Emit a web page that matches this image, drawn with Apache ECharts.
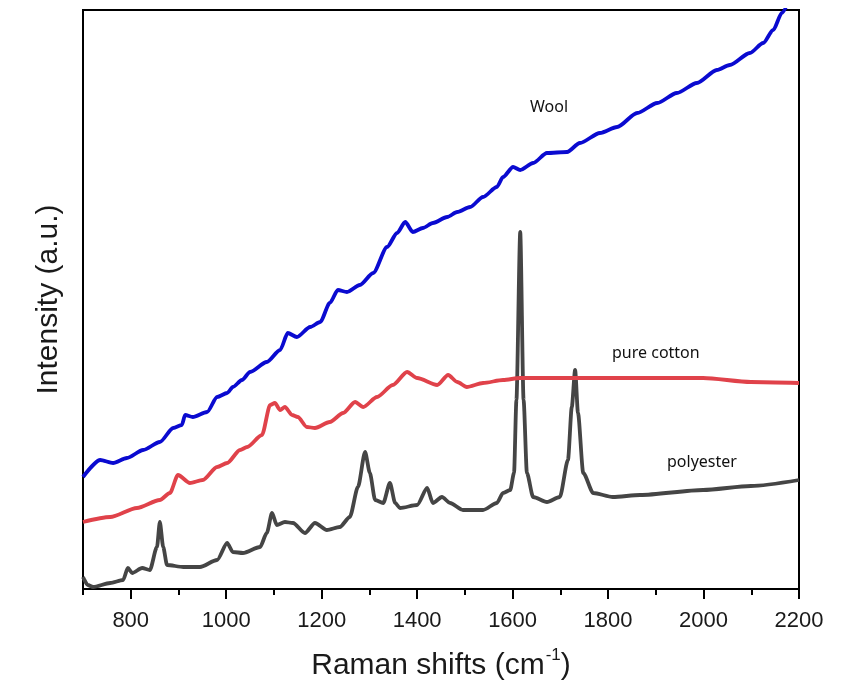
<!DOCTYPE html>
<html>
<head>
<meta charset="utf-8">
<script src="https://cdn.jsdelivr.net/npm/echarts@6/dist/echarts.min.js"></script>
<style>
  html, body { margin: 0; padding: 0; background: #fff; }
  #chart { width: 843px; height: 686px; }
</style>
</head>
<body>
<div id="chart"></div>
<script>
  // Raman shift (cm-1) / intensity (a.u.)
  var woolShift = [700, 736, 763, 792, 826, 861, 889, 907, 914, 930, 960, 981, 1002, 1014, 1033, 1050, 1085, 1113, 1129, 1148, 1176, 1197, 1217, 1234, 1253, 1280, 1308, 1337, 1358, 1375, 1391, 1412, 1433, 1463, 1484, 1511, 1538, 1567, 1580, 1601, 1616, 1643, 1672, 1714, 1741, 1783, 1819, 1861, 1903, 1944, 1986, 2028, 2055, 2097, 2125, 2146, 2164, 2181];
  var woolIntensity = [112, 129, 126, 131, 139, 147, 161, 164, 174, 172, 177, 192, 196, 202, 209, 217, 227, 239, 256, 252, 262, 267, 286, 299, 297, 304, 316, 342, 356, 367, 357, 361, 366, 372, 377, 382, 392, 402, 412, 422, 419, 426, 436, 437, 446, 456, 462, 476, 486, 496, 506, 519, 524, 536, 546, 559, 576, 591];

  var cottonShift = [700, 757, 813, 861, 882, 899, 924, 951, 981, 1002, 1029, 1044, 1075, 1092, 1102, 1113, 1123, 1138, 1150, 1169, 1186, 1217, 1245, 1270, 1287, 1316, 1349, 1379, 1400, 1442, 1465, 1484, 1504, 1538, 1580, 1616, 1699, 1867, 1999, 2099, 2200];
  var cottonIntensity = [67, 72, 81, 89, 96, 114, 106, 109, 122, 126, 139, 142, 154, 184, 186, 179, 182, 174, 172, 162, 161, 167, 176, 187, 182, 192, 204, 217, 211, 204, 214, 207, 202, 206, 209, 211, 211, 211, 211, 207, 206];

  var polyShift = [700, 710, 721, 757, 784, 794, 803, 824, 840, 855, 861, 868, 876, 910, 945, 981, 1002, 1014, 1035, 1071, 1085, 1096, 1106, 1123, 1140, 1165, 1186, 1211, 1238, 1259, 1276, 1291, 1301, 1312, 1329, 1343, 1354, 1364, 1400, 1421, 1433, 1452, 1469, 1496, 1538, 1567, 1580, 1595, 1603, 1608, 1616, 1623, 1630, 1643, 1672, 1699, 1716, 1724, 1731, 1737, 1748, 1769, 1810, 1867, 1999, 2099, 2200];
  var polyIntensity = [12, 4, 2, 6, 9, 21, 16, 21, 19, 42, 67, 42, 24, 22, 22, 29, 46, 37, 36, 42, 56, 76, 64, 67, 66, 56, 66, 59, 62, 72, 102, 137, 116, 89, 86, 106, 86, 81, 84, 101, 86, 92, 86, 79, 79, 86, 96, 99, 116, 189, 357, 189, 116, 92, 87, 92, 129, 182, 219, 176, 116, 96, 92, 94, 99, 103, 109];

  var tickValues = [800, 1000, 1200, 1400, 1600, 1800, 2000, 2200];
  var minorTickValues = [700, 900, 1100, 1300, 1500, 1700, 1900, 2100];

  function zip(xs, ys) {
    var out = [];
    for (var i = 0; i < xs.length; i++) {
      out.push([xs[i], ys[i]]);
    }
    return out;
  }

  var chart = echarts.init(document.getElementById('chart'), null, { renderer: 'canvas' });
  var option = {
    backgroundColor: '#fff',
    animation: false,
    grid: {
      left: 83,
      right: 44,
      top: 10,
      bottom: 97,
      show: true,
      borderColor: '#000',
      borderWidth: 2,
      backgroundColor: 'transparent'
    },
    xAxis: [{
      type: 'value',
      min: 700,
      max: 2200,
      interval: 100,
      name: '{a|Raman shifts (cm}{s|-1}{a|)}',
      nameLocation: 'middle',
      nameGap: 58,
      nameTextStyle: {
        rich: {
          a: { fontFamily: 'Liberation Sans', fontSize: 30, color: '#1a1a1a', lineHeight: 34, verticalAlign: 'bottom' },
          s: { fontFamily: 'Liberation Sans', fontSize: 17, color: '#1a1a1a', lineHeight: 34, verticalAlign: 'top', padding: [0, 0, 0, 1] }
        }
      },
      axisLine: { show: true, onZero: false, lineStyle: { color: '#000', width: 2 } },
      axisTick: { show: true, customValues: tickValues, length: 10, lineStyle: { color: '#000', width: 2 } },
      axisLabel: {
        customValues: tickValues,
        formatter: function (v) { return String(v); },
        margin: 21,
        fontFamily: 'Liberation Sans',
        fontSize: 22,
        color: '#1a1a1a'
      },
      splitLine: { show: false }
    }, {
      type: 'value',
      position: 'bottom',
      min: 700,
      max: 2200,
      interval: 100,
      axisLine: { show: false },
      axisTick: { show: true, customValues: minorTickValues, length: 6, lineStyle: { color: '#000', width: 2 } },
      axisLabel: { show: false },
      splitLine: { show: false }
    }],
    yAxis: {
      type: 'value',
      min: 0,
      max: 579,
      name: 'Intensity (a.u.)',
      nameLocation: 'middle',
      nameGap: 19,
      nameTextStyle: { fontFamily: 'Liberation Sans', fontSize: 30, color: '#1a1a1a' },
      axisLine: { show: true, onZero: false, lineStyle: { color: '#000', width: 2 } },
      axisTick: { show: false },
      axisLabel: { show: false },
      splitLine: { show: false }
    },
    graphic: [
      { type: 'text', left: 530, top: 99, style: { text: 'Wool', fontFamily: 'Noto Sans', fontSize: 16, fill: '#111' } },
      { type: 'text', left: 612, top: 345, style: { text: 'pure cotton', fontFamily: 'Noto Sans', fontSize: 16, fill: '#111' } },
      { type: 'text', left: 667, top: 454, style: { text: 'polyester', fontFamily: 'Noto Sans', fontSize: 16, fill: '#111' } }
    ],
    series: [{
      name: 'polyester',
      type: 'line',
      data: zip(polyShift, polyIntensity),
      showSymbol: false,
      smooth: 0.25,
      smoothMonotone: 'x',
      clip: true,
      lineStyle: { color: '#454545', width: 3.8 }
    }, {
      name: 'pure cotton',
      type: 'line',
      data: zip(cottonShift, cottonIntensity),
      showSymbol: false,
      smooth: 0.25,
      smoothMonotone: 'x',
      clip: true,
      lineStyle: { color: '#e0424a', width: 3.8 }
    }, {
      name: 'Wool',
      type: 'line',
      data: zip(woolShift, woolIntensity),
      showSymbol: false,
      smooth: 0.25,
      smoothMonotone: 'x',
      clip: true,
      lineStyle: { color: '#0a0ad0', width: 3.8 }
    }]
  };
  chart.setOption(option);
</script>
</body>
</html>
